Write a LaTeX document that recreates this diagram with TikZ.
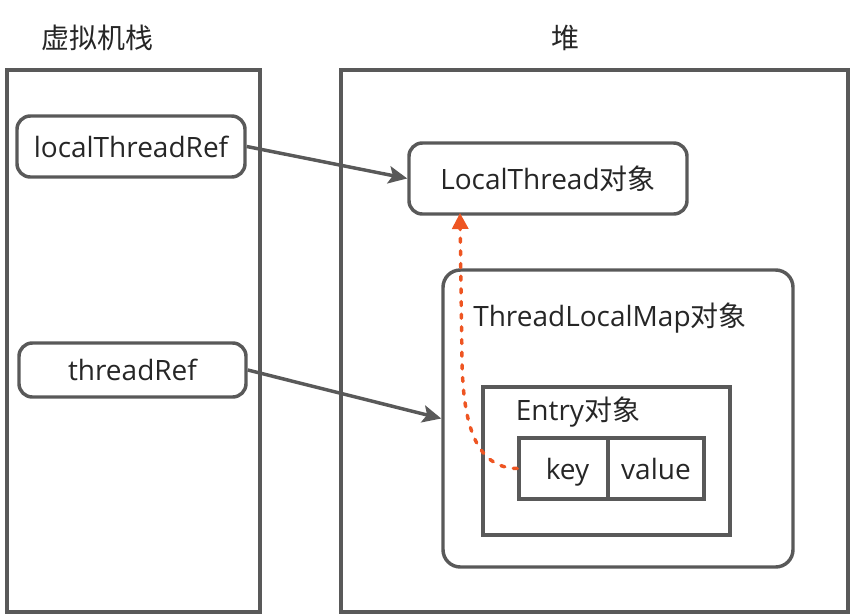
\documentclass[tikz,border=0pt]{standalone}
\usepackage{fontspec}
\setmainfont{Open Sans}
\newfontfamily\cjk{Noto Sans CJK SC}
\usetikzlibrary{arrows.meta,fit}
\definecolor{ln}{HTML}{595959}
\definecolor{tx}{HTML}{262626}
\definecolor{og}{HTML}{EE5522}
\begin{document}
\begin{tikzpicture}[x=0.75pt,y=-0.75pt,
  every node/.style={text=tx,font=\fontsize{21}{24}\selectfont},
  every label/.style={text height=20pt,text depth=4pt,inner sep=0pt},
  frame/.style={draw=ln,line width=2.6pt,inner sep=0pt},
  rbox/.style={frame,rounded corners=10pt},
  sbox/.style={frame},
  arr/.style={draw=ln,line width=2.6pt,-{Stealth[length=14pt,width=13pt,inset=3pt]}},
  dref/.style={draw=og,line width=2.6pt,line cap=round,dash pattern=on 3pt off 6.5pt,
     -{Triangle[length=12pt,width=12pt,line cap=butt]}}]
\useasboundingbox (0,0) rectangle (854,615);
\node (t1) at (97,38) {\cjk 虚拟机栈};
\node (t2) at (565,38) {\cjk 堆};
\node[sbox,fit={(7,70) (260,612)}] (stack) {};
\node[sbox,fit={(341,70) (848,612)}] (heap) {};
\node[rbox,fit={(17,116) (245,177)},label={center:localThreadRef}] (ltr) {};
\node[rbox,fit={(19,343) (246,397)},label={center:threadRef}] (tr) {};
\node[rbox,fit={(409,143) (687,214)},label={center:LocalThread{\cjk 对象}}] (lt) {};
\node[rbox,rounded corners=13pt,fit={(443,270) (793,567)}] (map) {};
\node (mapl) at (610,318) {ThreadLocalMap{\cjk 对象}};
\node[sbox,fit={(483,387) (730,535)}] (entry) {};
\node (entl) at (578,412) {Entry{\cjk 对象}};
\node[sbox,fit={(519,438) (608,499)},label={[xshift=3pt]center:key}] (key) {};
\node[sbox,fit={(608,438) (704,499)},label={center:value}] (val) {};
\coordinate (tip) at (460,213);
\draw[arr] (ltr.east) -- (lt.west);
\draw[arr] (tr.east) -- (map.west);
\draw[dref] (key.west) .. controls (476,468) and (463,425) .. (462,360) -- (tip);
\end{tikzpicture}
\end{document}
